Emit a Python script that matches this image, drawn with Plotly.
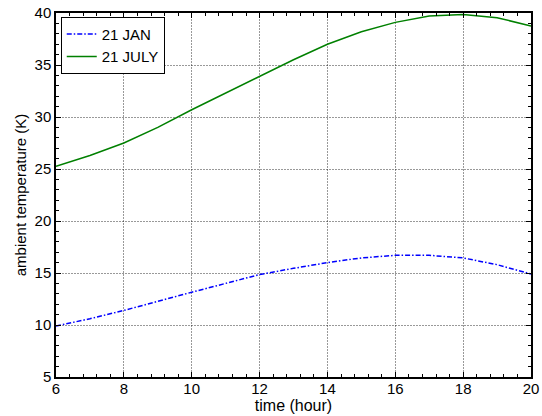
import plotly.graph_objects as go

hours = [6, 7, 8, 9, 10, 11, 12, 13, 14, 15, 16, 17, 18, 19, 20]
temp_jan = [9.9, 10.6, 11.4, 12.3, 13.15, 14.0, 14.85, 15.45, 16.0, 16.45, 16.7, 16.7, 16.45, 15.8, 14.9]
temp_july = [25.25, 26.3, 27.5, 29.0, 30.7, 32.3, 33.9, 35.5, 37.0, 38.2, 39.1, 39.7, 39.85, 39.55, 38.75]

x_ticks = [6, 8, 10, 12, 14, 16, 18, 20]
y_ticks = [5, 10, 15, 20, 25, 30, 35, 40]

font_family = "Liberation Sans, Arial, sans-serif"

fig = go.Figure()
fig.add_trace(go.Scatter(
    x=hours, y=temp_jan, mode="lines", name="21 JAN",
    line=dict(color="#0000ff", width=1.5, dash="5px,2px,1.5px,2px"),
))
fig.add_trace(go.Scatter(
    x=hours, y=temp_july, mode="lines", name="21 JULY",
    line=dict(color="#008000", width=1.5),
))

axis_common = dict(
    showline=True, linecolor="black", linewidth=1.5, mirror="allticks",
    ticks="inside", ticklen=5, tickwidth=1, tickcolor="black",
    showgrid=True, gridcolor="rgba(0,0,0,0.4)", griddash="2px,1px", gridwidth=1,
    zeroline=False, automargin=False,
    tickfont=dict(family=font_family, size=15, color="black"),
)

fig.update_xaxes(
    range=[6, 20], tickvals=x_ticks,
    title=dict(text="time (hour)", font=dict(family=font_family, size=16, color="black"), standoff=0),
    minor=dict(ticks="inside", ticklen=3, dtick=0.4, tick0=6, tickcolor="black", showgrid=False),
    ticklabelstandoff=-3,
    **axis_common,
)
fig.update_yaxes(
    range=[5, 40], tickvals=y_ticks,
    title=dict(text="ambient temperature (K)", font=dict(family=font_family, size=15, color="black"), standoff=4),
    minor=dict(ticks="inside", ticklen=3, dtick=1, tick0=5, tickcolor="black", showgrid=False),
    **axis_common,
)

fig.update_layout(
    width=542, height=416,
    margin=dict(l=56, r=11, t=13, b=39),
    paper_bgcolor="white", plot_bgcolor="white",
    font=dict(family=font_family, color="black"),
    legend=dict(
        x=0.01, y=0.99, xanchor="left", yanchor="top",
        bgcolor="white", bordercolor="black", borderwidth=1,
        font=dict(family=font_family, size=15, color="black"),
        tracegroupgap=0, itemwidth=30,
    ),
    showlegend=True,
)

fig.write_html("out.html")
